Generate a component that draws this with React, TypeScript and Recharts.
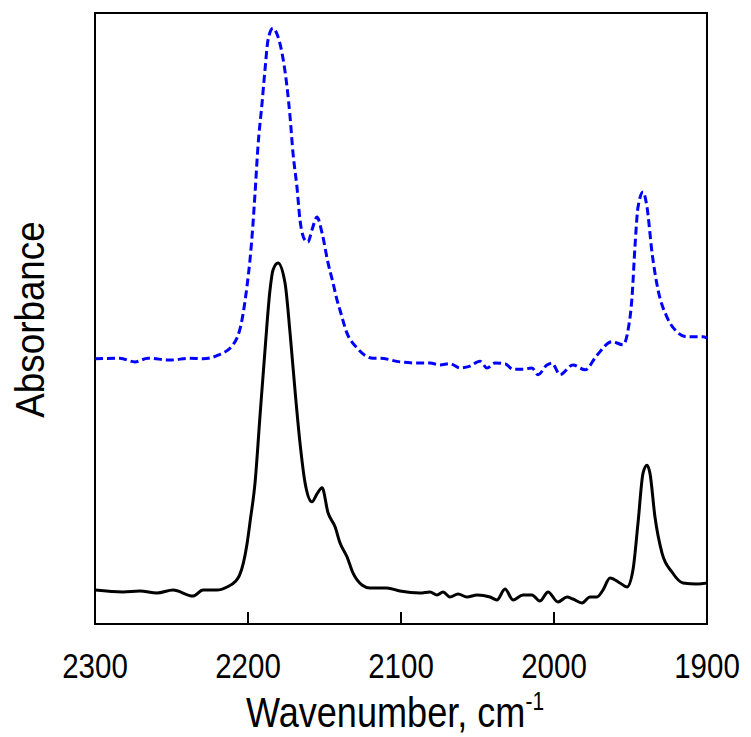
import { LineChart, Line, XAxis, YAxis, ReferenceArea } from 'recharts';

// wavenumber (cm-1) and absorbance (arbitrary units) for the two spectra
const solidWn = [
  2300, 2281.7, 2270.6, 2259.5, 2249.0, 2236.0, 2229.4, 2220.3, 2213.7, 2208.5,
  2205.5, 2203.0, 2200.7, 2198.5, 2195.4, 2192.2, 2188.9, 2185.6, 2183.7, 2180.4,
  2175.8, 2172.5, 2169.3, 2166.0, 2162.7, 2158.2, 2154.9, 2151.6, 2147.7, 2143.1,
  2139.9, 2135.3, 2131.4, 2125.5, 2120.3, 2109.2, 2100.7, 2087.6, 2081.0, 2076.5,
  2072.5, 2068.0, 2062.7, 2056.9, 2050.3, 2041.8, 2037.3, 2032.0, 2026.8, 2020.3,
  2014.4, 2009.2, 2003.9, 1997.4, 1991.5, 1987.6, 1981.7, 1976.5, 1971.9, 1968.0,
  1963.4, 1956.9, 1952.3, 1948.4, 1945.1, 1941.8, 1939.2, 1937.3, 1934.0, 1929.4,
  1922.9, 1915.7, 1906.5, 1900,
];
const solidAbs = [
  5.56, 5.24, 5.4, 5.07, 5.56, 4.58, 5.56, 5.56, 6.06, 6.9,
  8.0, 10.0, 13.0, 17.0, 23.1, 33.9, 44.8, 54.7, 57.9, 59.1,
  55.8, 47.6, 38.3, 29.6, 23.1, 20.0, 21.3, 22.3, 18.2, 15.9,
  13.3, 11.0, 8.35, 6.38, 5.89, 5.89, 5.4, 5.07, 5.24, 4.75,
  5.24, 4.42, 4.91, 4.42, 4.75, 4.42, 3.93, 5.73, 3.93, 4.75,
  4.75, 3.76, 5.24, 3.6, 4.42, 4.09, 3.44, 4.42, 4.42, 5.56,
  7.53, 6.71, 6.06, 8.84, 16.5, 24.7, 26.0, 24.7, 17.5, 11.6,
  8.51, 6.71, 6.55, 6.71,
];

const dashedWn = [
  2300, 2283.7, 2273.9, 2265.4, 2251.0, 2237.9, 2229.4, 2219.6, 2209.8, 2203.9,
  2200.7, 2198.7, 2197.4, 2195.4, 2193.5, 2190.8, 2188.9, 2186.9, 2183.7, 2180.4,
  2177.8, 2174.5, 2172.5, 2170.6, 2168.0, 2166.0, 2162.7, 2160.8, 2158.2, 2154.9,
  2151.6, 2147.7, 2144.4, 2141.8, 2139.9, 2135.3, 2128.8, 2118.3, 2113.7, 2100.7,
  2087.6, 2081.0, 2074.5, 2068.0, 2061.4, 2054.9, 2048.4, 2043.8, 2038.6, 2032.0,
  2026.8, 2020.3, 2014.4, 2010.5, 2004.6, 2001.3, 1996.1, 1987.6, 1979.7, 1971.9,
  1962.1, 1954.9, 1951.6, 1949.0, 1947.1, 1945.1, 1941.8, 1939.2, 1935.9, 1932.0,
  1926.1, 1919.6, 1913.1, 1902.6, 1900,
];
const dashedAbs = [
  43.4, 43.5, 42.9, 43.5, 43.2, 43.5, 43.4, 44.0, 45.7, 49.8,
  55.2, 59.6, 63.3, 70.5, 78.1, 85.3, 90.7, 95.6, 97.5, 96.1,
  93.5, 87.9, 83.0, 77.1, 71.5, 66.1, 62.8, 62.5, 64.5, 66.6,
  64.0, 59.1, 55.8, 53.0, 51.4, 47.6, 45.2, 43.5, 43.5, 42.9,
  42.7, 42.7, 42.4, 42.6, 41.9, 42.2, 43.0, 41.9, 42.7, 42.6,
  41.7, 41.7, 41.9, 40.8, 42.4, 42.7, 40.8, 42.4, 41.6, 44.0,
  46.2, 45.7, 48.1, 53.5, 61.7, 68.2, 70.7, 68.2, 60.7, 54.7,
  50.2, 47.8, 47.0, 47.0, 46.8,
];

const xTicks = [2300, 2200, 2100, 2000, 1900];

const solidData = solidWn.map((wn, i) => ({ wn, a: solidAbs[i] }));
const dashedData = dashedWn.map((wn, i) => ({ wn, a: dashedAbs[i] }));

// narrow sans look: regular Liberation Sans squeezed along the text direction
const FONT = 'Arial, "Liberation Sans", sans-serif';
const NARROW = 0.82;

// inward tick mark plus label underneath
const BottomTick = ({ x, y, payload }: any) => (
  <g>
    <line x1={x} x2={x} y1={y} y2={y - 12} stroke="#000" strokeWidth={2} />
    <text
      transform={`translate(${x} ${y + 54}) scale(${NARROW} 1)`}
      textAnchor="middle"
      fontSize={36}
      fontFamily={FONT}
      fill="#000"
    >
      {payload.value}
    </text>
  </g>
);

const XTitle = ({ viewBox }: any) => (
  <text
    transform={`translate(${viewBox.x + viewBox.width / 2 - 6} ${viewBox.y + 103}) scale(0.84 1)`}
    textAnchor="middle"
    fontSize={43}
    fontFamily={FONT}
    fill="#000"
  >
    Wavenumber, cm
    <tspan fontSize={25} dy={-17}>-1</tspan>
  </text>
);

const YTitle = ({ viewBox }: any) => {
  const cx = 36;
  const cy = viewBox.y + viewBox.height / 2 + 1;
  return (
    <text
      transform={`translate(${cx} ${cy}) rotate(-90) scale(0.92 1)`}
      textAnchor="middle"
      fontSize={40}
      fontFamily={FONT}
      fill="#000"
    >
      Absorbance
    </text>
  );
};

export default function App() {
  return (
    <div style={{ width: 743, height: 729, background: '#fff' }}>
      <LineChart width={743} height={729} margin={{ top: 5, right: 44, bottom: 0, left: 0 }}>
        <XAxis
          type="number"
          dataKey="wn"
          domain={[1900, 2300]}
          reversed
          ticks={xTicks}
          interval={0}
          allowDataOverflow
          axisLine={false}
          tickLine={false}
          tickSize={0}
          tickMargin={0}
          height={113}
          tick={<BottomTick />}
          label={{ content: <XTitle /> }}
        />
        <YAxis
          type="number"
          domain={[0, 100]}
          allowDataOverflow
          tick={false}
          axisLine={false}
          tickLine={false}
          width={87}
          label={{ content: <YTitle /> }}
        />
        <ReferenceArea
          x1={2300}
          x2={1900}
          y1={0}
          y2={100}
          fill="none"
          fillOpacity={0}
          stroke="#000"
          strokeWidth={2}
        />
        <Line
          data={dashedData}
          dataKey="a"
          type="monotone"
          stroke="#0000ff"
          strokeWidth={3}
          strokeDasharray="8 4"
          dot={false}
          activeDot={false}
          isAnimationActive={false}
        />
        <Line
          data={solidData}
          dataKey="a"
          type="monotone"
          stroke="#000"
          strokeWidth={3}
          dot={false}
          activeDot={false}
          isAnimationActive={false}
        />
      </LineChart>
    </div>
  );
}
